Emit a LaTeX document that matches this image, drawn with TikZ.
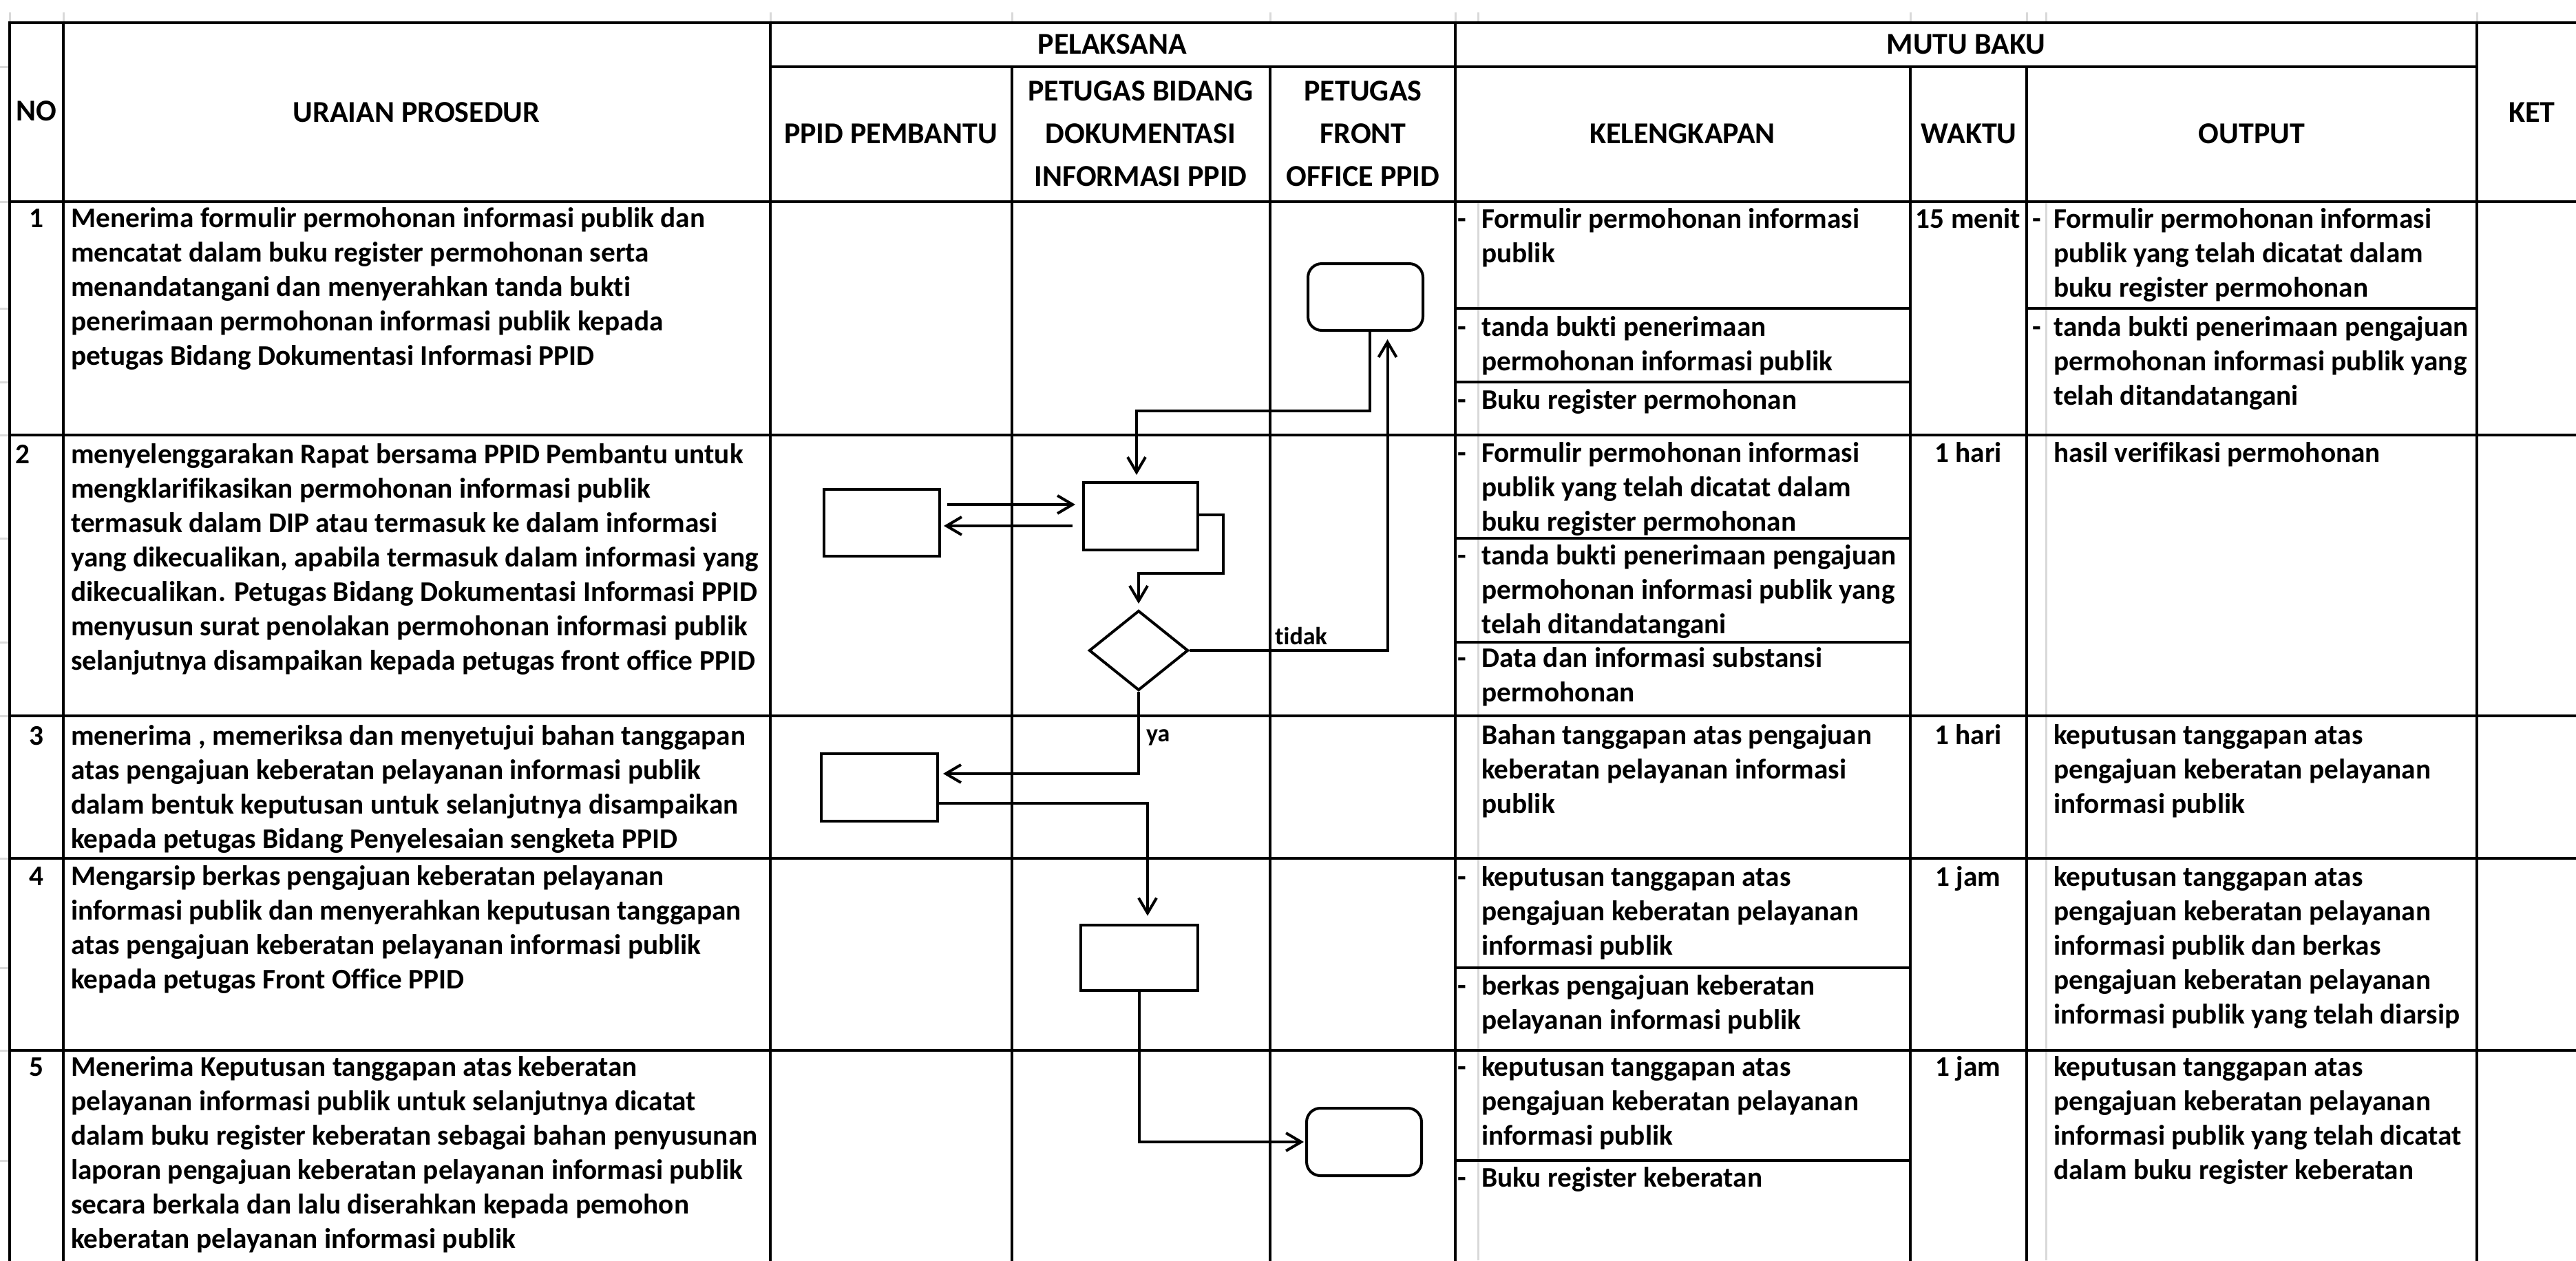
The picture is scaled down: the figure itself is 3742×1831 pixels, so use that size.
\documentclass[tikz,border=0pt]{standalone}
\usepackage{fontspec}
\setmainfont{Carlito}[Ligatures={NoCommon}]
\usetikzlibrary{arrows.meta,shapes.geometric}
\newcommand\bodyfont{\fontsize{41.3}{50}\selectfont\bfseries}
\newcommand\headfont{\fontsize{44}{62}\selectfont\bfseries}
\newcommand\lblfont{\fontsize{36}{40}\selectfont\bfseries}
\newcommand\dsh{\makebox[35pt][l]{-}}
\newcommand\ind{\hspace*{35pt}}
\newcommand\dshb{\makebox[31pt][l]{-}}
\newcommand\indb{\hspace*{31pt}}
\begin{document}
\begin{tikzpicture}[x=1pt,y=-1pt,
  tline/.style={line width=3.8pt,line cap=rect},
  gline/.style={line width=3pt,black!15},
  fbox/.style={draw,line width=4pt,inner sep=0pt,rectangle},
  rbox/.style={fbox,rounded corners=20pt},
  dec/.style={draw,line width=4pt,diamond,inner sep=0pt,minimum width=144pt,minimum height=116pt},
  arr/.style={line width=4pt,-{Straight Barb[length=22pt,width=26pt,line width=4pt]}},
  body/.style={inner sep=0pt,align=left,anchor=north west,font=\bodyfont},
  ctr/.style={inner sep=0pt,align=center,anchor=north,font=\bodyfont},
  hd/.style={inner sep=0pt,align=center,anchor=center,font=\headfont},
  lbl/.style={inner sep=0pt,anchor=west,font=\lblfont}]
\useasboundingbox (0,0) rectangle (3742,1831);
\fill[white] (0,0) rectangle (3742,1831);
% faint spreadsheet gridlines
\foreach \x in {14,92,1119,1470,1845,2114,2147,2775,2944,2972,3598} \draw[gline] (\x,18) -- (\x,33);
\foreach \y in {97,293,448,555,632,782,933,1040,1247,1406,1526,1686} \draw[gline] (0,\y) -- (14,\y);
\draw[gline] (2147,293) -- (2147,1831);
\draw[gline] (2972,293) -- (2972,1831);
% table lines
\foreach \y in {33,293,632,1040,1247,1526} \draw[tline] (14,\y) -- (3742,\y);
\draw[tline] (1119,97) -- (3598,97);
\foreach \x in {14,92,1119,2114,3598} \draw[tline] (\x,33) -- (\x,1831);
\foreach \x in {1470,1845,2775,2944} \draw[tline] (\x,97) -- (\x,1831);
\foreach \y in {448,555,782,933,1406,1686} \draw[tline] (2114,\y) -- (2775,\y);
\draw[tline] (2944,448) -- (3598,448);
% headers
\node[hd] (hno) at (53,163) {\strut NO};
\node[hd] (hur) at (605,165) {\strut URAIAN PROSEDUR};
\node[hd] (hpl) at (1616,66) {\strut PELAKSANA};
\node[hd] (hpp) at (1294,196) {\strut PPID PEMBANTU};
\node[hd] (hpb) at (1657,196) {\strut PETUGAS BIDANG\\\strut DOKUMENTASI\\\strut INFORMASI PPID};
\node[hd] (hfo) at (1980,196) {\strut PETUGAS\\\strut FRONT\\\strut OFFICE PPID};
\node[hd] (hmb) at (2856,66) {\strut MUTU BAKU};
\node[hd] (hkl) at (2444,196) {\strut KELENGKAPAN};
\node[hd] (hwk) at (2860,196) {\strut WAKTU};
\node[hd] (hou) at (3271,196) {\strut OUTPUT};
\node[hd] (hkt) at (3678,165) {\strut KET};
% row 1
\node[ctr] (n1) at (53,295) {\strut 1};
\node[body] (u1) at (103,295) {\strut Menerima formulir permohonan informasi publik dan\\mencatat dalam buku register permohonan serta\\menandatangani dan menyerahkan tanda bukti\\penerimaan permohonan informasi publik kepada\\petugas Bidang Dokumentasi Informasi PPID};
\node[body] (k1a) at (2117,296) {\strut\dsh Formulir permohonan informasi\\\ind publik};
\node[body] (k1b) at (2117,453) {\strut\dsh tanda bukti penerimaan\\\ind permohonan informasi publik};
\node[body] (k1c) at (2117,559) {\strut\dsh Buku register permohonan};
\node[ctr] (w1) at (2859,296) {\strut 15 menit};
\node[body] (o1a) at (2952,296) {\strut\dshb Formulir permohonan informasi\\\indb publik yang telah dicatat dalam\\\indb buku register permohonan};
\node[body] (o1b) at (2952,453) {\strut\dshb tanda bukti penerimaan pengajuan\\\indb permohonan informasi publik yang\\\indb telah ditandatangani};
% row 2
\node[body] (n2) at (22,638) {\strut 2};
\node[body] (u2) at (103,638) {\strut menyelenggarakan Rapat bersama PPID Pembantu untuk\\mengklarifikasikan permohonan informasi publik\\termasuk dalam DIP atau termasuk ke dalam informasi\\yang dikecualikan, apabila termasuk dalam informasi yang\\dikecualikan. Petugas Bidang Dokumentasi Informasi PPID\\menyusun surat penolakan permohonan informasi publik\\selanjutnya disampaikan kepada petugas front office PPID};
\node[body] (k2a) at (2117,636) {\strut\dsh Formulir permohonan informasi\\\ind publik yang telah dicatat dalam\\\ind buku register permohonan};
\node[body] (k2b) at (2117,785) {\strut\dsh tanda bukti penerimaan pengajuan\\\ind permohonan informasi publik yang\\\ind telah ditandatangani};
\node[body] (k2c) at (2117,934) {\strut\dsh Data dan informasi substansi\\\ind permohonan};
\node[ctr] (w2) at (2859,636) {\strut 1 hari};
\node[body] (o2) at (2983,636) {\strut hasil verifikasi permohonan};
% row 3
\node[ctr] (n3) at (53,1047) {\strut 3};
\node[body] (u3) at (103,1047) {\strut menerima , memeriksa dan menyetujui bahan tanggapan\\atas pengajuan keberatan pelayanan informasi publik\\dalam bentuk keputusan untuk selanjutnya disampaikan\\kepada petugas Bidang Penyelesaian sengketa PPID};
\node[body] (k3) at (2152,1046) {\strut Bahan tanggapan atas pengajuan\\keberatan pelayanan informasi\\publik};
\node[ctr] (w3) at (2859,1046) {\strut 1 hari};
\node[body] (o3) at (2983,1046) {\strut keputusan tanggapan atas\\pengajuan keberatan pelayanan\\informasi publik};
% row 4
\node[ctr] (n4) at (53,1251) {\strut 4};
\node[body] (u4) at (103,1251) {\strut Mengarsip berkas pengajuan keberatan pelayanan\\informasi publik dan menyerahkan keputusan tanggapan\\atas pengajuan keberatan pelayanan informasi publik\\kepada petugas Front Office PPID};
\node[body] (k4a) at (2117,1252) {\strut\dsh keputusan tanggapan atas\\\ind pengajuan keberatan pelayanan\\\ind informasi publik};
\node[body] (k4b) at (2117,1410) {\strut\dsh berkas pengajuan keberatan\\\ind pelayanan informasi publik};
\node[ctr] (w4) at (2859,1252) {\strut 1 jam};
\node[body] (o4) at (2983,1252) {\strut keputusan tanggapan atas\\pengajuan keberatan pelayanan\\informasi publik dan berkas\\pengajuan keberatan pelayanan\\informasi publik yang telah diarsip};
% row 5
\node[ctr] (n5) at (53,1528) {\strut 5};
\node[body] (u5) at (103,1528) {\strut Menerima Keputusan tanggapan atas keberatan\\pelayanan informasi publik untuk selanjutnya dicatat\\dalam buku register keberatan sebagai bahan penyusunan\\laporan pengajuan keberatan pelayanan informasi publik\\secara berkala dan lalu diserahkan kepada pemohon\\keberatan pelayanan informasi publik};
\node[body] (k5a) at (2117,1528) {\strut\dsh keputusan tanggapan atas\\\ind pengajuan keberatan pelayanan\\\ind informasi publik};
\node[body] (k5b) at (2117,1689) {\strut\dsh Buku register keberatan};
\node[ctr] (w5) at (2859,1528) {\strut 1 jam};
\node[body] (o5) at (2983,1528) {\strut keputusan tanggapan atas\\pengajuan keberatan pelayanan\\informasi publik yang telah dicatat\\dalam buku register keberatan};
% flowchart shapes
\node[rbox,minimum width=167pt,minimum height=97pt] (fo1) at (1983.5,431.5) {};
\node[fbox,minimum width=168pt,minimum height=97pt] (a) at (1281,759.5) {};
\node[fbox,minimum width=166pt,minimum height=98pt] (b) at (1657,750) {};
\node[dec] (d1) at (1654,945) {};
\node[fbox,minimum width=169pt,minimum height=98pt] (c) at (1277.5,1144) {};
\node[fbox,minimum width=170pt,minimum height=95pt] (d) at (1655,1391) {};
\node[rbox,minimum width=167pt,minimum height=98pt] (fo5) at (1981.5,1659) {};
% connectors
\draw[arr,shorten >=9pt] ([xshift=6pt]fo1.south) -- ++(0,115) -| ([xshift=-6pt]b.north);
\draw[arr,shorten <=9pt,shorten >=10pt] (a.east |- 0,733) -- (b.west |- 0,733);
\draw[arr,shorten <=14pt,shorten >=4pt] (b.west |- 0,764) -- (a.east |- 0,764);
\draw[arr,shorten >=8pt] (b.east |- 0,748) -| (1777,833) -| (d1.north);
\draw[arr,shorten >=11pt] (d1.east) -| ([xshift=32pt]fo1.south);
\draw[arr,shorten >=6pt] (d1.south) |- (c.east |- 0,1124);
\draw[arr,shorten >=11pt] (c.east |- 0,1167) -| ([xshift=12pt]d.north);
\draw[arr,shorten >=2pt] (d.south) |- (fo5.west);
\node[lbl] (ltidak) at (1852,924) {tidak};
\node[lbl] (lya) at (1665,1071) {ya};
\end{tikzpicture}
\end{document}
